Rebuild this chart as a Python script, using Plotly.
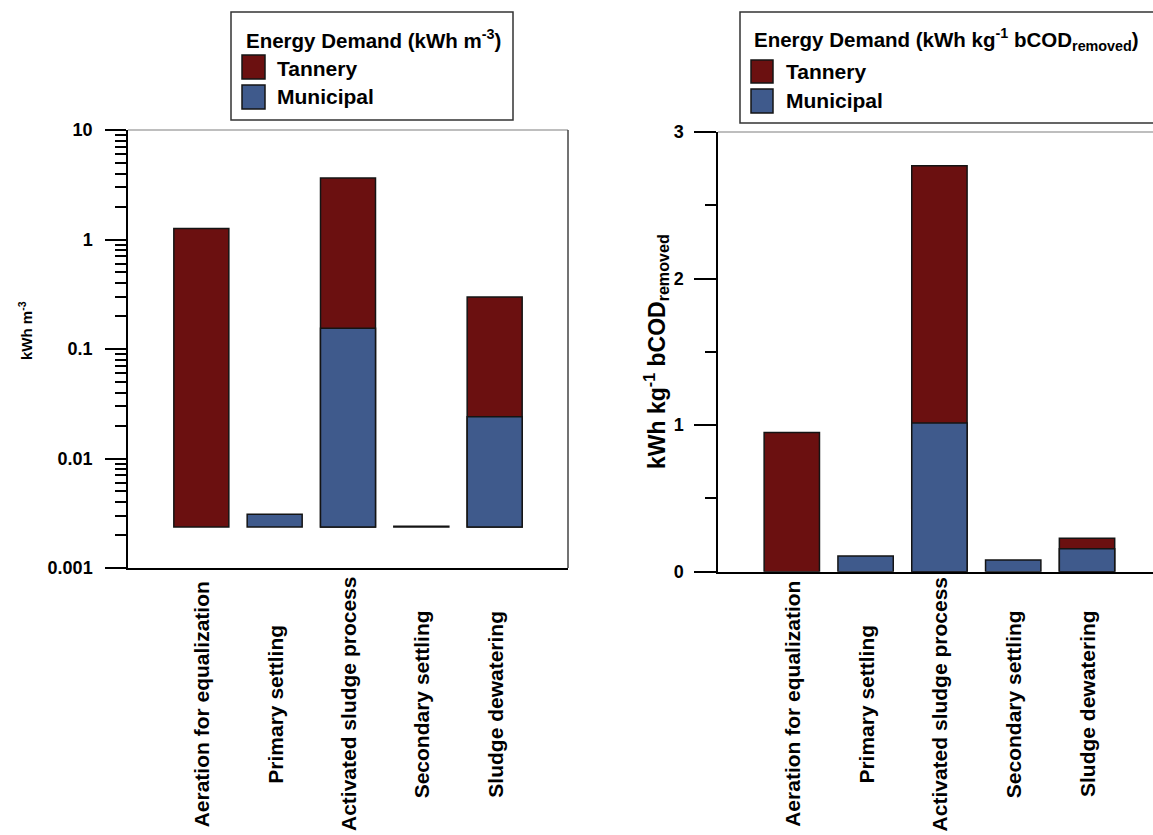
import plotly.graph_objects as go

# ---------------- data ----------------
categories = ["Aeration for equalization", "Primary settling", "Activated sludge process",
              "Secondary settling", "Sludge dewatering"]
series_names = ["Tannery", "Municipal"]

# Energy demand, kWh m-3 (left panel, log scale)
tannery_m3 = [1.26, None, 3.65, None, 0.298]
municipal_m3 = [None, 0.0031, 0.155, 0.00241, 0.0241]
log_base_m3 = 0.00237  # bars in the log panel start here

# Energy demand, kWh kg-1 bCOD removed (right panel, linear)
tannery_cod = [0.95, None, 2.77, None, 0.228]
municipal_cod = [None, 0.107, 1.015, 0.08, 0.157]

left_ticks = [0.001, 0.01, 0.1, 1, 10]
left_ticktext = ["0.001", "0.01", "0.1", "1", "10"]
left_minor = [k * 10.0 ** d for d in range(-3, 1) for k in range(2, 10)]
right_ticks = [0, 1, 2, 3]

# ---------------- style ----------------
W, H = 1153, 835
C_TAN = "#6B1010"
C_MUN = "#3F5A8C"
EDGE = "#141414"
FONT = "Liberation Sans, Arial, sans-serif"


def px(x):
    return x / W


def py(y):
    return 1 - y / H


fig = go.Figure()


def minus_base(vals, b):
    return [None if v is None else v - b for v in vals]


# left panel (overlaid, tannery behind municipal)
fig.add_trace(go.Bar(x=categories, y=minus_base(tannery_m3, log_base_m3), base=log_base_m3,
                     name=series_names[0], marker=dict(color=C_TAN, line=dict(color=EDGE, width=1.5)),
                     width=0.75, xaxis="x", yaxis="y", showlegend=False))
fig.add_trace(go.Bar(x=categories, y=minus_base(municipal_m3, log_base_m3), base=log_base_m3,
                     name=series_names[1], marker=dict(color=C_MUN, line=dict(color=EDGE, width=1.5)),
                     width=0.75, xaxis="x", yaxis="y", showlegend=False))
# right panel
fig.add_trace(go.Bar(x=categories, y=tannery_cod, name=series_names[0],
                     marker=dict(color=C_TAN, line=dict(color=EDGE, width=1.5)),
                     width=0.75, xaxis="x2", yaxis="y2", showlegend=False))
fig.add_trace(go.Bar(x=categories, y=municipal_cod, name=series_names[1],
                     marker=dict(color=C_MUN, line=dict(color=EDGE, width=1.5)),
                     width=0.75, xaxis="x2", yaxis="y2", showlegend=False))

tickfont = dict(family=FONT, size=18, color="black", weight="bold")

fig.update_layout(
    template="none",
    width=W, height=H, autosize=False,
    margin=dict(l=0, r=0, t=0, b=0, pad=0, autoexpand=False),
    paper_bgcolor="white", plot_bgcolor="white",
    barmode="overlay",
    font=dict(family=FONT, color="black"),
    xaxis=dict(domain=[px(128), px(568)], anchor="y", type="category", automargin=False,
               range=[-1, 5], showline=True, linecolor="black", linewidth=1.5,
               ticks="", showticklabels=False, showgrid=False, zeroline=False),
    yaxis=dict(domain=[py(568), py(130)], anchor="x", type="log", range=[-3, 1], automargin=False,
               showline=True, linecolor="black", linewidth=1.5,
               tickmode="array", tickvals=left_ticks, ticktext=left_ticktext,
               ticks="outside", ticklen=21, tickwidth=1.5, tickcolor="black",
               minor=dict(tickmode="array", tickvals=left_minor, ticks="outside", ticklen=11,
                          tickwidth=1.5, tickcolor="black", showgrid=False),
               tickfont=tickfont, ticklabelstandoff=9,
               showgrid=False, zeroline=False),
    xaxis2=dict(domain=[px(718), 1.0], anchor="y2", type="category", automargin=False,
                range=[-1, 4.894], showline=True, linecolor="black", linewidth=1.5,
                ticks="", showticklabels=False, showgrid=False, zeroline=False),
    yaxis2=dict(domain=[py(571.7), py(132)], anchor="x2", range=[0, 3], automargin=False,
                showline=True, linecolor="black", linewidth=1.5,
                tickmode="array", tickvals=right_ticks,
                ticks="outside", ticklen=22, tickwidth=1.5, tickcolor="black",
                minor=dict(ticks="outside", ticklen=11, tickwidth=1.5, tickcolor="black",
                           dtick=0.5, showgrid=False),
                tickfont=tickfont, ticklabelstandoff=7,
                showgrid=False, zeroline=False),
)

shapes = []
# frame lines (top & right of left panel, top of right panel)
shapes.append(dict(type="line", xref="x domain", yref="y domain", x0=0, x1=1, y0=1, y1=1,
                   line=dict(color="#a8a8a8", width=1.5)))
shapes.append(dict(type="line", xref="x domain", yref="y domain", x0=1, x1=1, y0=0, y1=1,
                   line=dict(color="#444444", width=1.5)))
shapes.append(dict(type="line", xref="x2 domain", yref="y2 domain", x0=0, x1=1, y0=1, y1=1,
                   line=dict(color="#a8a8a8", width=1.5)))

# legend boxes
shapes.append(dict(type="rect", xref="paper", yref="paper", x0=px(231), x1=px(513), y0=py(120), y1=py(12),
                   line=dict(color="#333333", width=1.5), fillcolor="white", layer="below"))
shapes.append(dict(type="rect", xref="paper", yref="paper", x0=px(740), x1=px(1175), y0=py(123), y1=py(12),
                   line=dict(color="#333333", width=1.5), fillcolor="white", layer="below"))
# legend swatches
for (x0, x1), rows in [((242, 265), [(55, 79), (85, 109)]), ((751, 773), [(60, 83), (89, 113)])]:
    for (y0, y1), col in zip(rows, [C_TAN, C_MUN]):
        shapes.append(dict(type="rect", xref="paper", yref="paper", x0=px(x0), x1=px(x1),
                           y0=py(y1), y1=py(y0), line=dict(color=EDGE, width=1.5), fillcolor=col))
fig.update_layout(shapes=shapes)

ann = []
# category labels (centred, rotated)
for xa in ["x", "x2"]:
    for c in categories:
        ann.append(dict(x=c, y=py(704), xref=xa, yref="paper", text="<b>%s</b>" % c,
                        textangle=-90, showarrow=False, xanchor="center", yanchor="middle",
                        font=dict(family=FONT, size=21, color="black")))
# legend texts
ann.append(dict(x=px(244), y=py(39), xref="paper", yref="paper", xanchor="left", yanchor="middle",
                text="<b>Energy Demand (kWh m<sup>-3</sup>)</b>", showarrow=False,
                font=dict(family=FONT, size=20.5, color="black")))
ann.append(dict(x=px(752), y=py(39), xref="paper", yref="paper", xanchor="left", yanchor="middle",
                text="<b>Energy Demand (kWh kg<sup>-1</sup> bCOD<sub>removed</sub>)</b>", showarrow=False,
                font=dict(family=FONT, size=20.5, color="black")))
for xx, ys in [(275, [68, 96]), (784, [71, 100])]:
    for yy, nm in zip(ys, series_names):
        ann.append(dict(x=px(xx), y=py(yy), xref="paper", yref="paper", xanchor="left", yanchor="middle",
                        text="<b>%s</b>" % nm, showarrow=False,
                        font=dict(family=FONT, size=21, color="black")))
# axis titles
ann.append(dict(x=px(25), y=py(331), xref="paper", yref="paper", xanchor="center", yanchor="middle",
                text="<b>kWh m<sup>-3</sup></b>", textangle=-90, showarrow=False,
                font=dict(family=FONT, size=15, color="black")))
ann.append(dict(x=px(656), y=py(352), xref="paper", yref="paper", xanchor="center", yanchor="middle",
                text="<b>kWh kg<sup>-1</sup> bCOD<sub>removed</sub></b>", textangle=-90, showarrow=False,
                font=dict(family=FONT, size=23, color="black")))
fig.update_layout(annotations=ann)

fig.write_html(
    "out.html",
    config={"responsive": False, "displayModeBar": False},
    post_script="document.body.style.margin='0';document.body.style.overflow='hidden';",
)
